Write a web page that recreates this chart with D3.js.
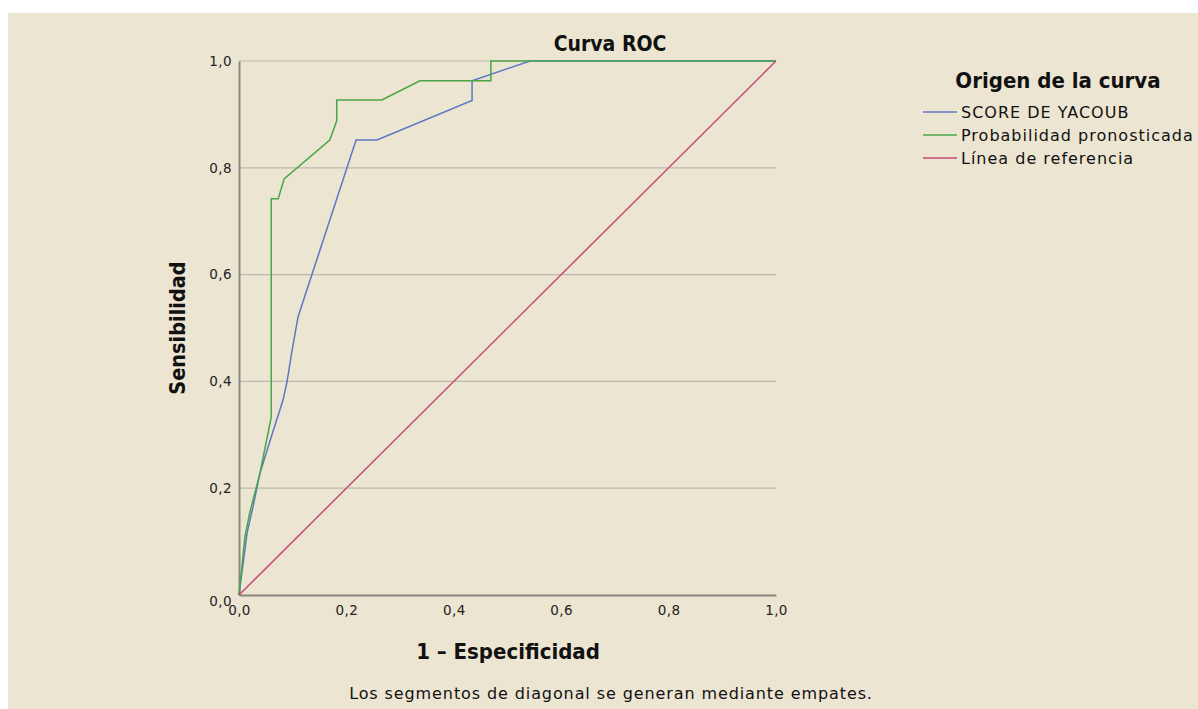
<!DOCTYPE html>
<html><head><meta charset="utf-8">
<script src="https://cdn.jsdelivr.net/npm/d3@7"></script>
<style>
html,body{margin:0;padding:0;background:#fff;}
svg{display:block;}
</style></head>
<body>
<script>
// Data
const yacoubFPR = [0, 0.015, 0.026, 0.039, 0.060, 0.082, 0.089, 0.099, 0.110, 0.218, 0.257, 0.434, 0.434, 0.542, 1.0];
const yacoubTPR = [0, 0.116, 0.165, 0.228, 0.296, 0.365, 0.397, 0.459, 0.521, 0.852, 0.852, 0.926, 0.963, 1.0, 1.0];
const probFPR = [0, 0.011, 0.020, 0.039, 0.060, 0.060, 0.073, 0.084, 0.169, 0.182, 0.182, 0.266, 0.337, 0.469, 0.469, 1.0];
const probTPR = [0, 0.109, 0.154, 0.228, 0.333, 0.742, 0.742, 0.779, 0.852, 0.888, 0.927, 0.927, 0.963, 0.963, 1.0, 1.0];
const refFPR = [0, 1];
const refTPR = [0, 1];
const seriesNames = ["SCORE DE YACOUB", "Probabilidad pronosticada", "Línea de referencia"];
const seriesColors = ["#5b78c4", "#4aa548", "#c84a78"];
const tickValues = [0, 0.2, 0.4, 0.6, 0.8, 1.0];
const tickLabels = ["0,0", "0,2", "0,4", "0,6", "0,8", "1,0"];

const W = 1198, H = 709;
const svg = d3.select("body").append("svg").attr("width", W).attr("height", H);
svg.append("rect").attr("x", 8).attr("y", 13).attr("width", W - 8).attr("height", H - 13).attr("fill", "#ece5d2");

const x = d3.scaleLinear().domain([0, 1]).range([239, 776]);
const y = d3.scaleLinear().domain([0, 1]).range([595, 61]);
const font = "'DejaVu Sans', sans-serif";
const fontC = "'DejaVu Sans Condensed', 'DejaVu Sans', sans-serif";

// gridlines
svg.append("g").selectAll("line").data(tickValues.filter(d => d > 0)).join("line")
  .attr("x1", x(0)).attr("x2", x(1)).attr("y1", d => y(d)).attr("y2", d => y(d))
  .attr("stroke", "#bdb9ae").attr("stroke-width", 1.2);

// axes
const xAxis = d3.axisBottom(x).tickValues(tickValues).tickFormat((d, i) => tickLabels[i]).tickSize(0).tickPadding(10);
const yAxis = d3.axisLeft(y).tickValues(tickValues).tickFormat((d, i) => tickLabels[i]).tickSize(0).tickPadding(7);
const gx = svg.append("g").attr("transform", `translate(0,${y(0)})`).call(xAxis);
const gy = svg.append("g").attr("transform", `translate(${x(0)},0)`).call(yAxis);
[gx, gy].forEach(g => {
  g.select(".domain").attr("stroke", "#8a877f").attr("stroke-width", 2);
  g.selectAll("text").attr("font-family", font).attr("font-size", 13.5).attr("letter-spacing", 0.4).attr("fill", "#222");
});
gx.selectAll("text").attr("dy", "0.71em");
gy.selectAll(".tick").filter(d => d === 0).select("text").attr("dy", "0.8em");

// lines
const line = d3.line().x(d => x(d[0])).y(d => y(d[1]));
const series = [
  d3.zip(yacoubFPR, yacoubTPR),
  d3.zip(probFPR, probTPR),
  d3.zip(refFPR, refTPR)
];
svg.append("g").selectAll("path").data(series).join("path")
  .attr("d", line).attr("fill", "none")
  .attr("stroke", (d, i) => seriesColors[i]).attr("stroke-width", 1.5);

// title
svg.append("text").attr("x", 610).attr("y", 51).attr("text-anchor", "middle")
  .attr("font-family", fontC).attr("font-weight", "bold").attr("font-size", 21).attr("fill", "#111").text("Curva ROC");

// axis titles
svg.append("text").attr("x", 508).attr("y", 659).attr("text-anchor", "middle")
  .attr("font-family", fontC).attr("font-weight", "bold").attr("font-size", 22).attr("fill", "#111").text("1 – Especificidad");
svg.append("text").attr("transform", "translate(185,328) rotate(-90)").attr("text-anchor", "middle")
  .attr("font-family", fontC).attr("font-weight", "bold").attr("font-size", 21.5).attr("fill", "#111").text("Sensibilidad");

// legend
svg.append("text").attr("x", 1058).attr("y", 88).attr("text-anchor", "middle")
  .attr("font-family", fontC).attr("font-weight", "bold").attr("font-size", 22).attr("fill", "#111").text("Origen de la curva");
const lg = svg.append("g").selectAll("g").data(seriesNames).join("g")
  .attr("transform", (d, i) => `translate(0,${112 + i * 23})`);
lg.append("line").attr("x1", 923).attr("x2", 957).attr("y1", 0).attr("y2", 0)
  .attr("stroke", (d, i) => seriesColors[i]).attr("stroke-width", 1.5);
lg.append("text").attr("x", 961).attr("y", 0).attr("dy", "0.35em")
  .attr("font-family", font).attr("font-size", 16).attr("letter-spacing", 1).attr("fill", "#111").text(d => d);

// footnote
svg.append("text").attr("x", 611).attr("y", 699).attr("text-anchor", "middle")
  .attr("font-family", font).attr("font-size", 16).attr("letter-spacing", 0.9).attr("fill", "#111")
  .text("Los segmentos de diagonal se generan mediante empates.");
</script>
</body></html>
